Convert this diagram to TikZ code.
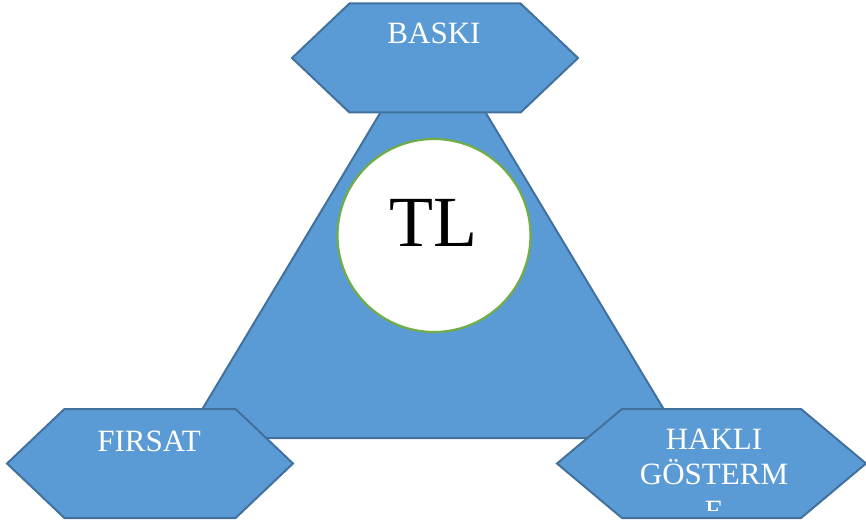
\documentclass[tikz,border=0pt]{standalone}
\usepackage{fontspec}
\setmainfont{Liberation Serif}
\usetikzlibrary{calc,positioning,shapes,shapes.symbols}
\definecolor{hexfill}{HTML}{5B9BD5}
\definecolor{hexline}{HTML}{41719C}
\definecolor{ringline}{HTML}{70AD47}

\begin{document}
\begin{tikzpicture}[x=1pt,y=-1pt,
		hexa/.style={signal,signal to=east and west,draw=hexline,fill=hexfill,line width=2pt,
			minimum height=109pt,minimum width=286pt,signal pointer angle=87,inner sep=0pt},
		lbl/.style={text=white,font=\fontsize{31}{35}\selectfont,anchor=base}]
		\useasboundingbox (0,0) rectangle (866,526);
		\coordinate (apex) at (433,25);
		\coordinate (bl) at (185,438);
		\coordinate (br) at (681,438);
		\filldraw[fill=hexfill,draw=hexline,line width=2pt,line join=round] (apex) -- (bl) -- (br) -- cycle;
		\node[hexa] (baski) at (435,58) {};
		\node[hexa] (firsat) at (150,463.5) {};
		\node[hexa,minimum width=309pt,signal pointer angle=80] (hakli) at (711.5,463.5) {};
		\node[circle,draw=ringline,fill=white,line width=2.2pt,minimum size=193pt,inner sep=0pt] (tl) at (434,235.5) {};
		\node[font=\fontsize{72}{72}\selectfont,anchor=base] (tltxt) at (433,247) {TL};
		\node[lbl] (baskitxt) at (434,44) {BASKI};
		\node[lbl] (firsattxt) at (149,451) {FIRSAT};
		\node[lbl] (hakli1) at (714,449) {HAKLI};
		\node[lbl] (hakli2) at (714,484) {GÖSTERM};
		\begin{scope}
			\clip (557,400) rectangle (866,510);
			\node[lbl] (hakli3) at (714,521) {E};
		\end{scope}
	\end{tikzpicture}
\end{document}
